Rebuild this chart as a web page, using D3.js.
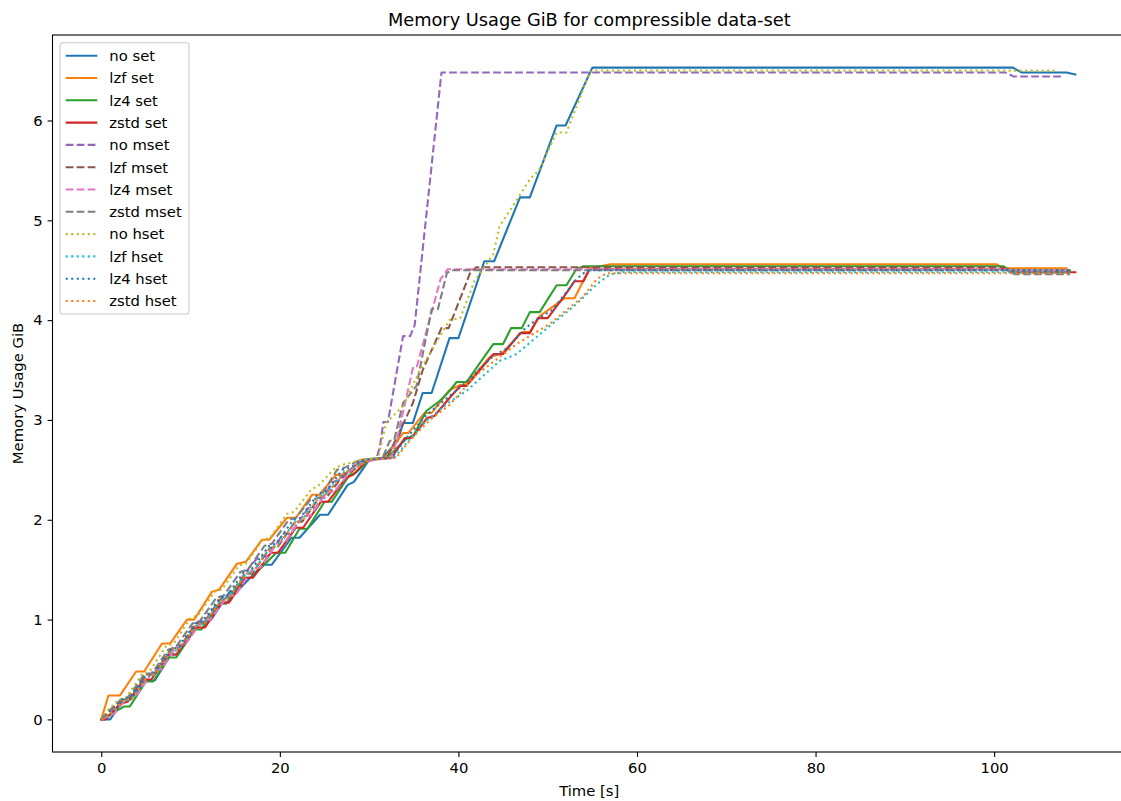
<!DOCTYPE html>
<html>
<head>
<meta charset="utf-8">
<script src="https://cdn.jsdelivr.net/npm/d3@7"></script>
<style>
  html, body { margin: 0; padding: 0; background: #fff; }
  svg { display: block; font-family: "DejaVu Sans", sans-serif; }
</style>
</head>
<body>
<svg id="chart" width="1121" height="801"></svg>
<script>
// ---------------- data ----------------
const title = "Memory Usage GiB for compressible data-set";
const xLabel = "Time [s]";
const yLabel = "Memory Usage GiB";
const xTicks = [0, 20, 40, 60, 80, 100];
const yTicks = [0, 1, 2, 3, 4, 5, 6];

const seriesNames = ["no set", "lzf set", "lz4 set", "zstd set",
  "no mset", "lzf mset", "lz4 mset", "zstd mset",
  "no hset", "lzf hset", "lz4 hset", "zstd hset"];

const noSet = [[0,0],[1,0],[2.5,0.2],[3.3,0.2],[5,0.39],[6,0.39],[7.8,0.65],[8.6,0.65],[10.6,0.92],[11.5,0.98],[12.3,1.0],[14.4,1.28],[15.2,1.28],[17,1.45],[18.1,1.55],[19.1,1.55],[21.3,1.82],[22.2,1.82],[24.5,2.05],[25.4,2.05],[27.6,2.35],[28.3,2.38],[30,2.6],[31.5,2.62],[33.2,2.79],[33.8,2.97],[34.9,2.97],[36.0,3.27],[37.0,3.27],[39.0,3.82],[40.0,3.82],[42.9,4.59],[44.0,4.59],[46.9,5.23],[48.0,5.23],[51.0,5.95],[52.0,5.95],[55.0,6.53],[102.1,6.53],[103.1,6.48],[108.1,6.48],[109.1,6.46]];
const lzfSet = [[0,0],[0.8,0.24],[2.1,0.24],[3.9,0.48],[4.8,0.48],[6.8,0.76],[7.7,0.76],[9.6,1.0],[10.4,1.0],[12.4,1.28],[13.2,1.3],[15.2,1.56],[16.2,1.58],[18.0,1.8],[18.8,1.8],[20.8,2.02],[21.8,2.02],[23.6,2.25],[24.4,2.25],[26.3,2.45],[27.2,2.45],[29.2,2.6],[31.8,2.62],[33.8,2.87],[34.4,2.87],[36.2,3.07],[37,3.07],[39,3.3],[40.2,3.35],[40.9,3.36],[43.5,3.63],[44.8,3.66],[47.1,3.88],[48.0,3.88],[49.1,4.04],[50.2,4.11],[51.9,4.22],[53.0,4.22],[54.7,4.52],[57.0,4.56],[100.3,4.56],[100.9,4.52],[108.1,4.52]];
const lz4Set = [[0,0],[1,0.05],[2.6,0.13],[3.2,0.13],[5,0.38],[5.8,0.38],[7.6,0.62],[8.4,0.62],[10.4,0.9],[11.2,0.9],[13.2,1.16],[14,1.16],[16,1.42],[16.8,1.42],[19.6,1.67],[20.6,1.67],[22.2,1.91],[23.1,1.91],[25,2.18],[25.8,2.18],[27.8,2.45],[28.5,2.47],[30,2.6],[32,2.62],[34,2.8],[35,2.85],[36.4,3.09],[37.9,3.19],[39,3.29],[39.8,3.38],[40.9,3.38],[43.9,3.76],[45,3.76],[45.9,3.92],[47.1,3.92],[48,4.08],[49.1,4.08],[51,4.35],[52.1,4.35],[53.2,4.51],[54,4.54],[101,4.54],[101.8,4.5],[108.5,4.5]];
const zstdSet = [[0,0],[0.5,0],[2,0.15],[3,0.18],[4.8,0.4],[5.6,0.4],[7.6,0.65],[8.4,0.65],[10.6,0.92],[11.6,0.92],[13.5,1.17],[14.3,1.17],[16.2,1.42],[17,1.42],[19,1.67],[19.8,1.67],[21.8,1.92],[22.6,1.92],[24.6,2.18],[25.4,2.18],[27.4,2.42],[28.2,2.45],[29.8,2.6],[32.5,2.62],[34,2.82],[34.8,2.82],[36.5,3.02],[37.3,3.04],[39,3.22],[40.2,3.34],[40.9,3.34],[43.9,3.66],[45,3.66],[46.9,3.87],[48,3.87],[48.9,4.02],[50,4.02],[52.1,4.27],[53,4.39],[54,4.39],[54.7,4.51],[101.5,4.51],[102.3,4.48],[109.1,4.48]];
const noMset = [[0,0],[0.7,0.05],[2.5,0.22],[3.3,0.22],[5.2,0.46],[6,0.46],[8,0.72],[8.8,0.72],[10.8,0.98],[11.6,0.98],[13.5,1.22],[14.3,1.22],[16.4,1.5],[17.6,1.63],[18.5,1.63],[20.4,1.86],[21.2,1.86],[23.2,2.12],[24,2.12],[26,2.38],[26.8,2.4],[28.8,2.58],[30.8,2.61],[31.2,2.73],[31.6,2.98],[32.1,2.98],[33.8,3.84],[34.6,3.84],[35.1,3.95],[38.1,6.48],[101.3,6.48],[102.2,6.44],[107.7,6.44]];
const lzfMset = [[0,0],[0.8,0.08],[2.3,0.2],[3.1,0.2],[5,0.45],[5.8,0.45],[7.8,0.7],[8.6,0.7],[10.6,0.96],[11.4,0.96],[13.3,1.2],[14.1,1.2],[16.1,1.46],[16.9,1.46],[18.9,1.72],[19.7,1.72],[21.7,1.98],[22.5,1.98],[24.4,2.22],[25.2,2.22],[27.2,2.46],[28,2.48],[29.6,2.6],[32,2.62],[33.5,2.9],[34.9,3.17],[36,3.5],[38.1,3.92],[38.9,3.92],[41.3,4.47],[42,4.53],[101,4.53],[101.8,4.48],[108.5,4.48]];
const lz4Mset = [[0,0],[0.5,0.02],[1.5,0.06],[3.2,0.25],[4,0.25],[5.9,0.5],[6.7,0.5],[8.6,0.75],[9.4,0.75],[11.4,1.0],[12.2,1.0],[14.2,1.24],[15,1.24],[17,1.52],[17.8,1.52],[19.8,1.78],[20.6,1.78],[22.6,2.04],[23.4,2.04],[25.3,2.28],[26.1,2.28],[28,2.5],[29,2.56],[30.5,2.6],[32.5,2.62],[33.1,2.8],[34.9,3.52],[35.3,3.52],[38,4.41],[38.8,4.51],[101.2,4.51],[102,4.5],[108.5,4.5]];
const zstdMset = [[0,0],[0.6,0.05],[2.2,0.2],[3,0.22],[4.8,0.45],[5.6,0.45],[7.5,0.7],[8.3,0.72],[10.2,0.96],[11,0.98],[12.9,1.22],[13.7,1.24],[15.6,1.48],[16.4,1.5],[18.3,1.74],[19.1,1.76],[21,2.0],[21.8,2.02],[23.4,2.2],[24.5,2.22],[26.4,2.5],[27.2,2.52],[29,2.6],[31.5,2.62],[32.3,2.79],[32.8,2.8],[33.8,3.17],[35.3,3.34],[37,4.11],[37.7,4.11],[38.7,4.47],[39.2,4.5],[101.5,4.5],[102.3,4.46],[108.5,4.46]];
const noHset = [[0,0],[0.8,0.1],[2,0.2],[2.8,0.22],[4.6,0.46],[5.4,0.48],[7.3,0.74],[8.1,0.76],[10,1.02],[10.8,1.04],[12.7,1.28],[13.5,1.3],[15.4,1.54],[16.2,1.56],[18.1,1.8],[18.9,1.82],[20.8,2.06],[21.6,2.08],[23.5,2.3],[24.3,2.34],[26.2,2.52],[27,2.55],[29,2.6],[31,2.62],[31.9,2.97],[33.8,3.14],[35.7,3.5],[39,4.0],[40.2,4.02],[41.8,4.39],[43.9,4.66],[44.6,4.94],[46.5,5.2],[48,5.41],[49,5.5],[51,5.88],[52.1,5.88],[54.7,6.48],[55.2,6.5],[106.8,6.5]];
const lzfHset = [[0,0],[0.8,0.03],[2.5,0.18],[3.3,0.2],[5.1,0.43],[5.9,0.44],[7.9,0.68],[8.7,0.7],[10.7,0.94],[11.5,0.96],[13.4,1.2],[14.2,1.22],[16.2,1.46],[17,1.48],[18.9,1.72],[19.7,1.74],[21.7,1.98],[22.5,2.0],[24.4,2.24],[25.2,2.26],[27.2,2.48],[28,2.5],[30,2.61],[32.8,2.62],[34.5,2.8],[36.5,3.0],[39,3.18],[40.9,3.29],[44.6,3.59],[46.5,3.66],[50.2,3.94],[53.2,4.16],[55.5,4.36],[57,4.46],[58.5,4.48],[108.5,4.48]];
const lz4Hset = [[0,0],[0.7,0.06],[2.4,0.2],[3.2,0.22],[5,0.44],[5.8,0.46],[7.8,0.7],[8.6,0.72],[10.5,0.96],[11.3,0.98],[13.3,1.22],[14.1,1.24],[16,1.48],[16.8,1.5],[18.8,1.74],[19.6,1.76],[21.5,2.0],[22.3,2.02],[24.3,2.26],[25.1,2.28],[27,2.5],[27.8,2.52],[29.5,2.6],[32.5,2.62],[34.2,2.82],[36.3,3.04],[39,3.24],[40.5,3.35],[43.9,3.64],[45.5,3.72],[47.5,3.92],[49,4.02],[50.5,4.1],[52.1,4.28],[53.2,4.41],[54.3,4.49],[55,4.5],[108.5,4.5]];
const zstdHset = [[0,0],[0.9,0.05],[2.6,0.2],[3.4,0.2],[5.2,0.44],[6,0.45],[7.9,0.7],[8.7,0.71],[10.7,0.95],[11.5,0.96],[13.5,1.2],[14.3,1.22],[16.2,1.46],[17,1.48],[19,1.72],[19.8,1.74],[21.8,1.98],[22.6,2.0],[24.5,2.24],[25.3,2.26],[27.3,2.48],[28.1,2.5],[30,2.6],[33,2.62],[34.6,2.8],[36.8,3.0],[39,3.15],[42,3.45],[46.5,3.76],[50.2,3.96],[54,4.24],[55.5,4.41],[56.6,4.47],[108.2,4.47]];

const seriesData = [noSet, lzfSet, lz4Set, zstdSet, noMset, lzfMset, lz4Mset, zstdMset, noHset, lzfHset, lz4Hset, zstdHset];
const colors = ["#1f77b4", "#ff7f0e", "#2ca02c", "#d62728", "#9467bd", "#8c564b", "#e377c2", "#7f7f7f", "#bcbd22", "#17becf", "#1f77b4", "#ff7f0e"];
const styles = ["solid","solid","solid","solid","dashed","dashed","dashed","dashed","dotted","dotted","dotted","dotted"];

// ---------------- layout ----------------
const L = 52.5, R = 1126, T = 35, B = 752;
const lw = 2.08;
const dashFor = s => s === "dashed" ? "7.7,3.3" : (s === "dotted" ? "2.08,3.43" : null);

const svg = d3.select("#chart");
const x = d3.scaleLinear().domain([-5.465, 114.77]).range([L, R]);
const y = d3.scaleLinear().domain([-0.3265, 6.8565]).range([B, T]);

svg.append("defs").append("clipPath").attr("id", "clip")
  .append("rect").attr("x", L).attr("y", T).attr("width", R - L).attr("height", B - T);

const line = d3.line().x(d => x(d[0])).y(d => y(d[1]));
const gLines = svg.append("g").attr("clip-path", "url(#clip)");
seriesData.forEach((data, i) => {
  gLines.append("path")
    .attr("d", line(data))
    .attr("fill", "none")
    .attr("stroke", colors[i])
    .attr("stroke-width", lw)
    .attr("stroke-linejoin", "round")
    .attr("stroke-linecap", styles[i] === "solid" ? "square" : "butt")
    .attr("stroke-dasharray", dashFor(styles[i]));
});

// axes
const fs = 14.8;
const xAxis = d3.axisBottom(x).tickValues(xTicks).tickSize(4.9).tickPadding(5.5).tickSizeOuter(0);
const gx = svg.append("g").attr("transform", `translate(0,${B})`).call(xAxis);
gx.select(".domain").remove();
gx.selectAll(".tick line").attr("stroke", "#000").attr("stroke-width", 1.1);
gx.selectAll(".tick text").attr("font-size", fs).attr("fill", "#000").attr("font-family", "DejaVu Sans");

const yAxis = d3.axisLeft(y).tickValues(yTicks).tickSize(4.9).tickPadding(4.9).tickSizeOuter(0);
const gy = svg.append("g").attr("transform", `translate(${L},0)`).call(yAxis);
gy.select(".domain").remove();
gy.selectAll(".tick line").attr("stroke", "#000").attr("stroke-width", 1.1);
gy.selectAll(".tick text").attr("font-size", fs).attr("fill", "#000").attr("font-family", "DejaVu Sans");

// spines
const sp = svg.append("g").attr("stroke", "#000").attr("stroke-width", 1.1).attr("fill", "none");
sp.append("rect").attr("x", L).attr("y", T).attr("width", R - L).attr("height", B - T);

// labels
svg.append("text").attr("x", (L + R) / 2).attr("y", 26).attr("text-anchor", "middle")
  .attr("font-size", 17.8).text(title);
svg.append("text").attr("x", (L + R) / 2).attr("y", 796).attr("text-anchor", "middle")
  .attr("font-size", fs).text(xLabel);
svg.append("text").attr("transform", `translate(23,${(T + B) / 2}) rotate(-90)`)
  .attr("text-anchor", "middle").attr("font-size", fs).text(yLabel);

// legend
const leg = svg.append("g");
leg.append("rect").attr("x", 60).attr("y", 42.7).attr("width", 129).attr("height", 271.3)
  .attr("rx", 2.8).attr("fill", "#fff").attr("fill-opacity", 0.8)
  .attr("stroke", "#cccccc").attr("stroke-width", 1.1);
seriesNames.forEach((name, i) => {
  const cy = 55.7 + i * 22.3;
  leg.append("line").attr("x1", 65.7).attr("x2", 97.3).attr("y1", cy).attr("y2", cy)
    .attr("stroke", colors[i]).attr("stroke-width", lw)
    .attr("stroke-dasharray", dashFor(styles[i]));
  leg.append("text").attr("x", 109.3).attr("y", cy).attr("dy", "0.36em")
    .attr("font-size", fs).text(name);
});
</script>
</body>
</html>
